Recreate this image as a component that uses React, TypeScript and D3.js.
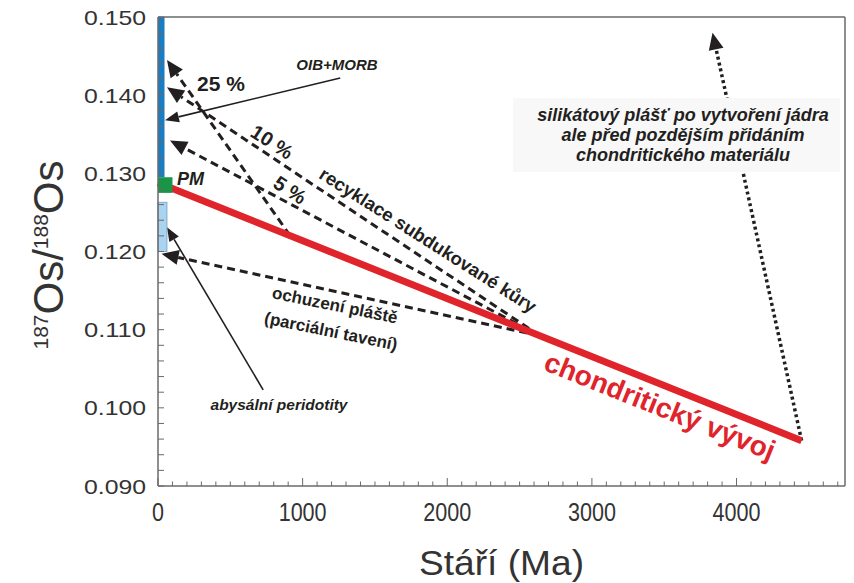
import React from 'react';
import * as d3 from 'd3';

const W = 854;
const H = 583;
const PLOT = { left: 158, right: 845, top: 17, bottom: 486 };

// axes
const xDomain = [0, 4750];
const yDomain = [0.09, 0.15];
const xTickValues = [0, 1000, 2000, 3000, 4000];
const xTickLabels = ['0', '1000', '2000', '3000', '4000'];
const yTickValues = [0.09, 0.1, 0.11, 0.12, 0.13, 0.14, 0.15];
const yTickLabels = ['0.090', '0.100', '0.110', '0.120', '0.130', '0.140', '0.150'];

// chondritic evolution line (age Ma, 187Os/188Os)
const chondriticAge = [0, 4450];
const chondriticRatio = [0.1288, 0.0958];

// reservoirs on the y axis
const oibMorbRange = [0.1295, 0.15];
const oibMorbAgeWidth = 45;
const pmRange = [0.1275, 0.1295];
const pmAgeWidth = 100;
const abyssalRange = [0.12, 0.1263];
const abyssalAgeWidth = 62;

// recycling of subducted crust (dashed arrows)
const recycleLabels = ['25 %', '10 %', '5 %'];
const recycleStartAge = [913, 2640, 2640];
const recycleTipAge = [62, 62, 83];
const recycleTipRatio = [0.1445, 0.141, 0.1342];

// mantle depletion (dashed arrow)
const depletionStartAge = 2640;
const depletionTipAge = 25;
const depletionTipRatio = 0.1197;

// solid pointer arrows: [startAge, startRatio, tipAge, tipRatio]
const oibArrow = [1260, 0.1422, 48, 0.1368];
const abyssalArrow = [727, 0.1023, 62, 0.1231];

// dotted arrow from end of chondritic line
const silicateTip = [3834, 0.148];

const silicateLines = [
  'silikátový plášť po vytvoření jádra',
  'ale před pozdějším přidáním',
  'chondritického materiálu',
];

const x = d3.scaleLinear().domain(xDomain).range([PLOT.left, PLOT.right]);
const y = d3.scaleLinear().domain(yDomain).range([PLOT.bottom, PLOT.top]);

const chondriticAt = (age: number) =>
  d3.scaleLinear().domain(chondriticAge).range(chondriticRatio)(age);

const DARK = '#231f20';
const AXIS = '#6a6a6a';
const RED = '#e0242b';

function arrowHead(x1: number, y1: number, x2: number, y2: number, len: number, half: number) {
  const dx = x1 - x2;
  const dy = y1 - y2;
  const d = Math.hypot(dx, dy);
  const ux = dx / d;
  const uy = dy / d;
  const bx = x2 + ux * len;
  const by = y2 + uy * len;
  const px = -uy * half;
  const py = ux * half;
  return {
    base: [bx, by],
    points: `${x2},${y2} ${bx + px},${by + py} ${bx - px},${by - py}`,
  };
}

function Arrow({ a1, r1, a2, r2, dash, width, len, half, color }: any) {
  const x1 = x(a1), y1 = y(r1), x2 = x(a2), y2 = y(r2);
  const h = arrowHead(x1, y1, x2, y2, len, half);
  return (
    <g>
      <line x1={x1} y1={y1} x2={h.base[0]} y2={h.base[1]} stroke={color} strokeWidth={width} strokeDasharray={dash} />
      <polygon points={h.points} fill={color} />
    </g>
  );
}

export default function App() {
  const minorX = d3.range(0, 4751, 100);
  const minorY = d3.range(0.09, 0.1501, 0.002);
  const redLine = d3.line<number>().x((_, i) => x(chondriticAge[i])).y((_, i) => y(chondriticRatio[i]));
  const conv = chondriticAt(2640);
  const sans = 'Liberation Sans, Arial, sans-serif';
  const endX = x(chondriticAge[1]);
  const endY = y(chondriticRatio[1]);
  const sh = arrowHead(endX, endY, x(silicateTip[0]), y(silicateTip[1]), 17, 7.5);

  return (
    <svg width={W} height={H} style={{ position: 'absolute', left: 0, top: 0, background: '#fff' }} fontFamily={sans}>
      <rect x={0} y={0} width={W} height={H} fill="#fff" />

      {/* dotted arrow */}
      <line x1={endX} y1={endY} x2={sh.base[0]} y2={sh.base[1]} stroke={DARK} strokeWidth={3.5} strokeDasharray="3 3" />
      <polygon points={sh.points} fill={DARK} />

      {/* silicate box */}
      <rect x={513} y={98} width={327} height={74} fill="#f8f8f8" />
      {silicateLines.map((t, i) => (
        <text key={t} x={683} y={121 + i * 20} textAnchor="middle" fontSize={18} fontWeight="bold" fontStyle="italic" fill={DARK}>
          {t}
        </text>
      ))}

      {/* recycling dashed arrows */}
      {recycleLabels.map((lab, i) => (
        <Arrow key={lab} a1={recycleStartAge[i]} r1={chondriticAt(recycleStartAge[i])} a2={recycleTipAge[i]} r2={recycleTipRatio[i]}
          dash="8 5" width={3} len={17} half={7.5} color={DARK} />
      ))}
      <Arrow a1={depletionStartAge} r1={conv} a2={depletionTipAge} r2={depletionTipRatio} dash="8 5" width={3} len={17} half={7.5} color={DARK} />

      {/* solid arrows */}
      <Arrow a1={oibArrow[0]} r1={oibArrow[1]} a2={oibArrow[2]} r2={oibArrow[3]} width={1.6} len={14} half={5.5} color={DARK} />
      <Arrow a1={abyssalArrow[0]} r1={abyssalArrow[1]} a2={abyssalArrow[2]} r2={abyssalArrow[3]} width={1.6} len={14} half={5.5} color={DARK} />

      {/* red chondritic line */}
      <path d={redLine([0, 1]) || ''} stroke={RED} strokeWidth={7} fill="none" />

      {/* reservoirs */}
      <rect x={x(0)} y={y(oibMorbRange[1])} width={x(oibMorbAgeWidth) - x(0)} height={y(oibMorbRange[0]) - y(oibMorbRange[1])} fill="#1b7dc1" />
      <rect x={x(0)} y={y(abyssalRange[1])} width={x(abyssalAgeWidth) - x(0)} height={y(abyssalRange[0]) - y(abyssalRange[1])} fill="#a9d3f0" stroke="#6f9fc4" strokeWidth={0.8} />
      <rect x={x(0)} y={y(pmRange[1])} width={x(pmAgeWidth) - x(0)} height={y(pmRange[0]) - y(pmRange[1])} fill="#1a9447" />

      {/* axes frame */}
      <line x1={PLOT.left} y1={PLOT.top} x2={PLOT.right} y2={PLOT.top} stroke={AXIS} strokeWidth={1.5} />
      <line x1={PLOT.right} y1={PLOT.top} x2={PLOT.right} y2={PLOT.bottom} stroke={AXIS} strokeWidth={1.5} />
      <line x1={PLOT.left} y1={PLOT.top} x2={PLOT.left} y2={PLOT.bottom} stroke={AXIS} strokeWidth={1.5} />
      <line x1={PLOT.left} y1={PLOT.bottom} x2={PLOT.right} y2={PLOT.bottom} stroke={AXIS} strokeWidth={1.5} />
      {minorX.map((v) => (
        <line key={'xt' + v} x1={x(v)} x2={x(v)} y1={PLOT.bottom} y2={PLOT.bottom - (v % 1000 === 0 ? 8 : 4.5)} stroke={AXIS} strokeWidth={1} />
      ))}
      {minorY.map((v, i) => (
        <line key={'yt' + i} x1={PLOT.left} x2={PLOT.left + 6} y1={y(v)} y2={y(v)} stroke={AXIS} strokeWidth={1} />
      ))}
      {yTickValues.map((v, i) => (
        <text key={'yl' + i} x={146} y={y(v)} dy="0.36em" textAnchor="end" fontSize={21} fill="#333"
          textLength={62} lengthAdjust="spacingAndGlyphs">
          {yTickLabels[i]}
        </text>
      ))}
      {xTickValues.map((v, i) => (
        <text key={'xl' + i} x={x(v)} y={521} textAnchor="middle" fontSize={26} fill="#333"
          textLength={xTickLabels[i].length * 12} lengthAdjust="spacingAndGlyphs">
          {xTickLabels[i]}
        </text>
      ))}
      <text x={(PLOT.left + PLOT.right) / 2} y={575} textAnchor="middle" fontSize={35} fill="#333"
        textLength={165} lengthAdjust="spacingAndGlyphs">Stáří (Ma)</text>
      <text transform="translate(63,255) rotate(-90)" textAnchor="middle" fontSize={42} fill="#333">
        <tspan fontSize={21} dy={-15}>187</tspan>
        <tspan dy={15}>Os/</tspan>
        <tspan fontSize={21} dy={-15}>188</tspan>
        <tspan dy={15}>Os</tspan>
      </text>

      {/* labels */}
      <text x={337} y={70} textAnchor="middle" fontSize={15} fontWeight="bold" fontStyle="italic" fill={DARK}>OIB+MORB</text>
      <text x={197} y={91} fontSize={21} fontWeight="bold" fill={DARK}>25 %</text>
      <text transform="translate(272,142) rotate(33)" textAnchor="middle" dy="0.35em" fontSize={20} fontWeight="bold" fill={DARK}>10 %</text>
      <text transform="translate(290,190) rotate(33)" textAnchor="middle" dy="0.35em" fontSize={20} fontWeight="bold" fill={DARK}>5 %</text>
      <text x={177} y={185} fontSize={18} fontWeight="bold" fontStyle="italic" fill={DARK}>PM</text>
      <text transform="translate(428,240) rotate(32.5)" textAnchor="middle" dy="0.35em" fontSize={18.5} fontWeight="bold" fill={DARK}>recyklace subdukované kůry</text>
      <text transform="translate(335,305) rotate(11.5)" textAnchor="middle" dy="0.35em" fontSize={17} fontWeight="bold" fill={DARK}>ochuzení pláště</text>
      <text transform="translate(331,331) rotate(11.5)" textAnchor="middle" dy="0.35em" fontSize={17} fontWeight="bold" fill={DARK}>(parciální tavení)</text>
      <text transform="translate(660,406) rotate(21.8)" textAnchor="middle" dy="0.35em" fontSize={28} fontWeight="bold" fill={RED}>chondritický vývoj</text>
      <text x={279} y={410} textAnchor="middle" fontSize={15.5} fontWeight="bold" fontStyle="italic" fill={DARK}>abysální peridotity</text>
    </svg>
  );
}
